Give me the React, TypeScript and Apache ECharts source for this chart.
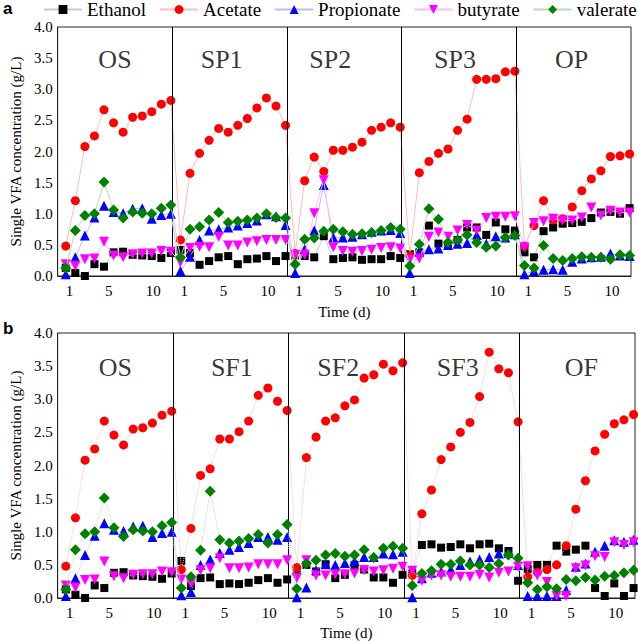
import React, { useEffect, useRef } from "react";
import * as echarts from "echarts";

// ---------- data ----------
const SERIES_NAMES = ["Ethanol", "Acetate", "Propionate", "butyrate", "valerate"];
const SEG_A = ["OS", "SP1", "SP2", "SP3", "OP"];
const SEG_B = ["OS", "SF1", "SF2", "SF3", "OF"];
const X_TICK_LABELS = ["1", "5", "10"];
const Y_MIN = 0;
const Y_MAX = 4.0;
const Y_STEP = 0.5;

const osEthanol = [0.13, 0.05, 0.0, 0.19, 0.15, 0.38, 0.39, 0.34, 0.33, 0.32, 0.29, 0.37];
const osAcetate = [0.48, 1.21, 2.08, 2.25, 2.67, 2.46, 2.31, 2.55, 2.57, 2.64, 2.76, 2.82];
const osPropionate = [0.03, 0.3, 0.65, 0.94, 1.13, 1.03, 1.01, 1.08, 1.09, 0.92, 0.98, 1.0];
const osButyrate = [0.19, 0.16, 0.27, 0.28, 0.55, 0.33, 0.3, 0.35, 0.36, 0.36, 0.4, 0.39];
const osValerate = [0.13, 0.73, 0.97, 1.0, 1.51, 1.06, 0.93, 1.03, 1.01, 1.0, 1.09, 1.14];

// panel a : OS, SP1, SP2, SP3, OP
const ethanolA = [
  ...osEthanol,
  0.42, 0.37, 0.18, 0.24, 0.3, 0.32, 0.19, 0.27, 0.28, 0.32, 0.24, 0.32,
  0.33, 0.32, 0.3, 0.64, 0.27, 0.29, 0.3, 0.26, 0.27, 0.27, 0.32, 0.29,
  0.35, 0.38, 0.81, 0.52, 0.5, 0.58, 0.78, 0.78, 0.66, 0.86, 0.75, 0.73,
  0.38, 0.3, 0.72, 0.78, 0.84, 0.85, 0.87, 0.93, 1.02, 1.03, 1.0, 1.09,
];
const acetateA = [
  ...osAcetate,
  0.58, 1.65, 1.97, 2.18, 2.37, 2.31, 2.42, 2.53, 2.7, 2.86, 2.73, 2.42,
  0.36, 1.53, 1.91, 1.68, 2.02, 2.02, 2.07, 2.15, 2.34, 2.39, 2.46, 2.39,
  0.33, 1.66, 1.84, 1.97, 2.04, 2.34, 2.52, 3.16, 3.16, 3.17, 3.28, 3.29,
  0.48, 0.81, 1.21, 0.9, 0.92, 1.11, 1.37, 1.56, 1.69, 1.92, 1.93, 1.96,
];
const propionateA = [
  ...osPropionate,
  0.08, 0.31, 0.58, 0.73, 0.75, 0.78, 0.81, 0.85, 0.89, 0.99, 0.96, 0.82,
  0.05, 0.43, 0.73, 1.46, 0.62, 0.62, 0.63, 0.67, 0.71, 0.73, 0.74, 0.69,
  0.05, 0.39, 0.43, 0.44, 0.5, 0.52, 0.53, 0.66, 0.52, 0.64, 0.62, 0.67,
  0.03, 0.08, 0.1, 0.11, 0.1, 0.23, 0.28, 0.3, 0.31, 0.36, 0.33, 0.32,
];
const butyrateA = [
  ...osButyrate,
  0.22, 0.45, 0.47, 0.46, 0.63, 0.49, 0.49, 0.54, 0.56, 0.58, 0.58, 0.58,
  0.34, 0.34, 1.01, 1.54, 0.46, 0.4, 0.39, 0.4, 0.42, 0.45, 0.46, 0.44,
  0.26, 0.28, 0.63, 0.7, 0.63, 0.73, 0.82, 0.73, 0.93, 0.95, 0.95, 0.96,
  0.46, 0.85, 0.88, 0.92, 0.89, 0.89, 0.94, 1.1, 0.97, 1.05, 1.02, 1.02,
];
const valerateA = [
  ...osValerate,
  0.3, 0.75, 0.79, 0.9, 1.02, 0.86, 0.88, 0.9, 0.93, 1.0, 0.94, 0.93,
  0.19, 0.59, 0.61, 0.72, 0.75, 0.71, 0.67, 0.68, 0.7, 0.73, 0.78, 0.75,
  0.16, 0.51, 1.08, 0.91, 0.54, 0.58, 0.66, 0.54, 0.46, 0.48, 0.62, 0.65,
  0.17, 0.13, 0.49, 0.28, 0.25, 0.28, 0.31, 0.3, 0.3, 0.27, 0.34, 0.33,
];

// panel b : OS, SF1, SF2, SF3, OF
const ethanolB = [
  ...osEthanol,
  0.56, 0.18, 0.3, 0.31, 0.21, 0.22, 0.21, 0.23, 0.27, 0.3, 0.23, 0.28,
  0.41, 0.5, 0.4, 0.51, 0.3, 0.35, 0.5, 0.43, 0.31, 0.31, 0.23, 0.35,
  0.38, 0.8, 0.81, 0.76, 0.77, 0.81, 0.75, 0.81, 0.82, 0.75, 0.71, 0.26,
  0.44, 0.5, 0.5, 0.79, 0.7, 0.73, 0.79, 0.15, 0.03, 0.22, 0.03, 0.15,
];
const acetateB = [
  ...osAcetate,
  0.43, 1.05, 1.85, 1.95, 2.4, 2.4, 2.51, 2.67, 3.06, 3.17, 2.97, 2.83,
  0.46, 2.12, 2.43, 2.67, 2.72, 2.9, 2.99, 3.32, 3.37, 3.53, 3.43, 3.55,
  0.34, 1.27, 1.63, 2.09, 2.28, 2.5, 2.65, 3.04, 3.71, 3.46, 3.4, 2.66,
  0.32, 0.39, 0.43, 0.5, 0.79, 1.34, 1.77, 2.22, 2.47, 2.63, 2.69, 2.77,
];
const propionateB = [
  ...osPropionate,
  0.04, 0.09, 0.5, 0.58, 0.68, 0.73, 0.77, 0.83, 0.92, 0.92, 0.88, 0.92,
  0.01, 0.16, 0.42, 0.51, 0.5, 0.53, 0.56, 0.62, 0.62, 0.67, 0.66, 0.7,
  0.01, 0.3, 0.38, 0.4, 0.43, 0.5, 0.55, 0.58, 0.62, 0.67, 0.68, 0.5,
  0.03, 0.03, 0.03, 0.03, 0.12, 0.47, 0.52, 0.7, 0.79, 0.87, 0.85, 0.88,
];
const butyrateB = [
  ...osButyrate,
  0.28, 0.22, 0.42, 0.45, 0.6, 0.45, 0.45, 0.46, 0.51, 0.51, 0.51, 0.57,
  0.3, 0.57, 0.34, 0.34, 0.36, 0.36, 0.37, 0.42, 0.4, 0.42, 0.44, 0.47,
  0.41, 0.26, 0.34, 0.34, 0.32, 0.32, 0.32, 0.35, 0.31, 0.38, 0.4, 0.47,
  0.48, 0.34, 0.24, 0.03, 0.03, 0.45, 0.49, 0.63, 0.62, 0.84, 0.8, 0.84,
];
const valerateB = [
  ...osValerate,
  0.15, 0.32, 0.72, 1.61, 0.88, 0.83, 0.86, 0.9, 0.96, 0.83, 0.96, 1.11,
  0.14, 0.52, 0.57, 0.65, 0.67, 0.63, 0.65, 0.73, 0.61, 0.75, 0.78, 0.75,
  0.19, 0.37, 0.41, 0.51, 0.51, 0.56, 0.5, 0.5, 0.46, 0.52, 0.65, 0.6,
  0.23, 0.13, 0.17, 0.14, 0.28, 0.26, 0.31, 0.27, 0.33, 0.34, 0.38, 0.42,
];

// ---------- layout / style ----------
const DAYS_PER_SEG = 12;
const N_SEG = 5;
const POINT_SHIFT = -0.15; // points sit slightly left of integer day positions
const TICK_POS: Record<string, number> = { "1": 1.25, "5": 5.35, "10": 10 };
const TITLE_SHIFT_A = [0, -8, -14, -4, -2];
const TITLE_SHIFT_B = [0, 1, -8, -4, 4];
const FONT = "Liberation Serif";

const STYLES = [
  { color: "#000000", line: "#c9c9c9", symbol: "rect", size: 8 },
  { color: "#ff0000", line: "#ffbcbc", symbol: "circle", size: 9 },
  { color: "#0000ff", line: "#bcbcff", symbol: "triangle", size: 10 },
  { color: "#ff00ff", line: "#ffbcff", symbol: "path://M0,0 L10,0 L5,9 Z", size: 10 },
  { color: "#008000", line: "#b5dcb5", symbol: "diamond", size: 11 },
];

function toXY(vals: number[]) {
  return vals.map((v, k) => [
    Math.floor(k / DAYS_PER_SEG) * DAYS_PER_SEG + (k % DAYS_PER_SEG) + 1 + POINT_SHIFT,
    v,
  ]);
}

function tickFormatter(v: number) {
  const seg = Math.floor((v + 1e-6) / DAYS_PER_SEG);
  const local = v - seg * DAYS_PER_SEG;
  if (seg >= N_SEG) return "";
  for (const t of X_TICK_LABELS) {
    if (Math.abs(local - TICK_POS[t]) < 0.001) return t;
  }
  return "";
}

export default function App() {
  const ref = useRef<HTMLDivElement>(null);
  useEffect(() => {
    if (!ref.current) return;
    const chart = echarts.init(ref.current, undefined, { renderer: "svg" });
    const panels = [
      { data: [ethanolA, acetateA, propionateA, butyrateA, valerateA], segs: SEG_A, shift: TITLE_SHIFT_A, dash: "solid" },
      { data: [ethanolB, acetateB, propionateB, butyrateB, valerateB], segs: SEG_B, shift: TITLE_SHIFT_B, dash: "dotted" },
    ];
    const series: any[] = [];
    panels.forEach((p, pi) => {
      p.data.forEach((vals, si) => {
        const st = STYLES[si];
        const s: any = {
          name: SERIES_NAMES[si],
          type: "line",
          xAxisIndex: pi,
          yAxisIndex: pi,
          data: toXY(vals),
          symbol: st.symbol,
          symbolSize: st.size,
          itemStyle: { color: st.color, borderWidth: 0 },
          lineStyle: { color: st.line, width: 1, type: p.dash },
          emphasis: { disabled: true },
          z: 3 + si,
        };
        if (si === 0) {
          s.markLine = {
            silent: true,
            symbol: ["none", "none"],
            label: { show: false },
            lineStyle: { color: "#000", width: 1, type: "solid" },
            data: [1, 2, 3, 4].map((k) => ({ xAxis: k * DAYS_PER_SEG })),
          };
        }
        series.push(s);
      });
      series.push({
        name: "titles" + pi,
        type: "scatter",
        xAxisIndex: pi,
        yAxisIndex: pi,
        symbolSize: 0,
        silent: true,
        data: p.segs.map((t, i) => ({
          value: [i * DAYS_PER_SEG + DAYS_PER_SEG / 2, 3.48],
          name: t,
          label: { offset: [p.shift[i], 0] },
        })),
        label: {
          show: true,
          position: "inside",
          formatter: (d: any) => d.name,
          fontSize: 26,
          fontFamily: FONT,
          color: "#000",
        },
      });
    });

    const grids = [
      { left: 48, top: 27, width: 583, height: 249 },
      { left: 49, top: 333, width: 586, height: 265 },
    ];
    const option: any = {
      animation: false,
      textStyle: { fontFamily: FONT, color: "#000" },
      legend: {
        data: SERIES_NAMES,
        left: 43,
        top: 0,
        itemWidth: 38,
        itemHeight: 11,
        itemGap: 13,
        padding: 0,
        selectedMode: false,
        textStyle: { fontSize: 19, fontFamily: FONT, color: "#000", lineHeight: 18 },
      },
      grid: grids.map((g) => ({ ...g, show: true, borderColor: "#222", borderWidth: 1, backgroundColor: "transparent" })),
      xAxis: [0, 1].map((i) => ({
        type: "value",
        gridIndex: i,
        min: 0,
        max: DAYS_PER_SEG * N_SEG,
        interval: 0.05,
        name: "Time (d)",
        nameLocation: "middle",
        nameGap: i === 0 ? 28 : 27,
        nameTextStyle: { fontSize: 15, fontFamily: FONT, color: "#000" },
        axisLine: { show: true, lineStyle: { color: "#222", width: 1 } },
        axisTick: { show: false },
        splitLine: { show: false },
        axisLabel: {
          formatter: tickFormatter,
          fontSize: 15,
          fontFamily: FONT,
          color: "#000",
          margin: 7,
          showMinLabel: true,
          showMaxLabel: true,
        },
      })),
      yAxis: [0, 1].map((i) => ({
        type: "value",
        gridIndex: i,
        min: Y_MIN,
        max: Y_MAX,
        interval: Y_STEP,
        name: "Single VFA concentration (g/L)",
        nameLocation: "middle",
        nameGap: 33,
        nameTextStyle: { fontSize: 15, fontFamily: FONT, color: "#000" },
        axisLine: { show: true, lineStyle: { color: "#222", width: 1 } },
        axisTick: { show: false },
        splitLine: { show: false },
        axisLabel: {
          formatter: (v: number) => v.toFixed(1),
          fontSize: 15,
          fontFamily: FONT,
          color: "#000",
          margin: 5,
        },
      })),
      graphic: [
        { type: "text", left: 3, top: 0, style: { text: "a", fontSize: 17, fontWeight: "bold", fontFamily: "Liberation Sans", fill: "#000" } },
        { type: "text", left: 3, top: 320, style: { text: "b", fontSize: 17, fontWeight: "bold", fontFamily: "Liberation Sans", fill: "#000" } },
      ],
      series,
    };
    chart.setOption(option);
    return () => chart.dispose();
  }, []);
  return <div ref={ref} style={{ width: 638, height: 643, position: "absolute", left: 0, top: 0 }} />;
}
